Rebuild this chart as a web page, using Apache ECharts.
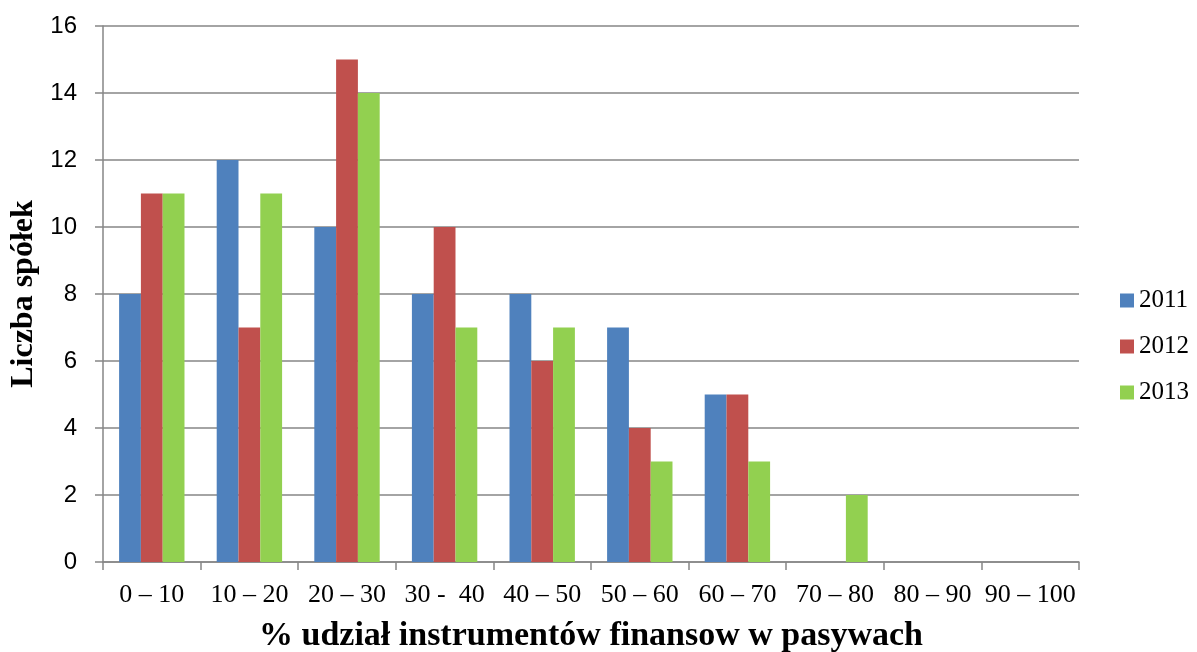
<!DOCTYPE html>
<html>
<head>
<meta charset="utf-8">
<script src="https://cdn.jsdelivr.net/npm/echarts@6/dist/echarts.min.js"></script>
<style>
  html, body { margin: 0; padding: 0; background: #fff; }
  #chart { width: 1197px; height: 652px; }
</style>
</head>
<body>
<div id="chart"></div>
<script>
const categories = ['0 – 10', '10 – 20', '20 – 30', '30 -  40', '40 – 50', '50 – 60', '60 – 70', '70 – 80', '80 – 90', '90 – 100']
const values2011 = [8, 12, 10, 8, 8, 7, 5, 0, 0, 0]
const values2012 = [11, 7, 15, 10, 6, 4, 5, 0, 0, 0]
const values2013 = [11, 11, 14, 7, 7, 3, 3, 2, 0, 0]

const serif = '"Liberation Serif", "Times New Roman", serif'
const sans = '"Liberation Sans", Arial, sans-serif'
const axisGray = '#868686'

const chart = echarts.init(document.getElementById('chart'))

const option = {
  animation: false,
  grid: {
    left: 103,
    right: 118,
    top: 26,
    bottom: 90,
    outerBoundsMode: 'none'
  },
  legend: {
    orient: 'vertical',
    left: 1115,
    top: 283,
    itemWidth: 14,
    itemHeight: 14,
    itemGap: 21,
    icon: 'rect',
    textStyle: {
      fontFamily: serif,
      fontSize: 25,
      color: '#000',
      lineHeight: 25
    },
    data: ['2011', '2012', '2013']
  },
  xAxis: {
    type: 'category',
    data: categories,
    name: '% udział instrumentów finansow w pasywach',
    nameLocation: 'middle',
    nameGap: 57,
    nameTextStyle: {
      fontFamily: serif,
      fontSize: 34,
      fontWeight: 'bold',
      color: '#000'
    },
    axisLine: { lineStyle: { color: axisGray, width: 1.5 } },
    axisTick: { show: true, length: 8, lineStyle: { color: axisGray, width: 1.5 } },
    axisLabel: {
      fontFamily: serif,
      fontSize: 26,
      color: '#000',
      margin: 20,
      interval: 0
    }
  },
  yAxis: {
    type: 'value',
    min: 0,
    max: 16,
    interval: 2,
    name: 'Liczba spółek',
    nameLocation: 'middle',
    nameGap: 59,
    nameTextStyle: {
      fontFamily: serif,
      fontSize: 32,
      fontWeight: 'bold',
      color: '#000'
    },
    axisLine: { show: true, lineStyle: { color: axisGray, width: 1.5 } },
    axisTick: { show: true, length: 8, lineStyle: { color: axisGray, width: 1.5 } },
    splitLine: { lineStyle: { color: axisGray, width: 1.5 } },
    axisLabel: {
      fontFamily: sans,
      fontSize: 24,
      color: '#000',
      margin: 26
    }
  },
  series: [
    {
      name: '2011',
      type: 'bar',
      data: values2011,
      barGap: '0%',
      barCategoryGap: '33%',
      itemStyle: { color: '#4F81BD' }
    },
    {
      name: '2012',
      type: 'bar',
      data: values2012,
      barGap: '0%',
      barCategoryGap: '33%',
      itemStyle: { color: '#C0504D' }
    },
    {
      name: '2013',
      type: 'bar',
      data: values2013,
      barGap: '0%',
      barCategoryGap: '33%',
      itemStyle: { color: '#92D050' }
    }
  ]
}

chart.setOption(option)
</script>
</body>
</html>
